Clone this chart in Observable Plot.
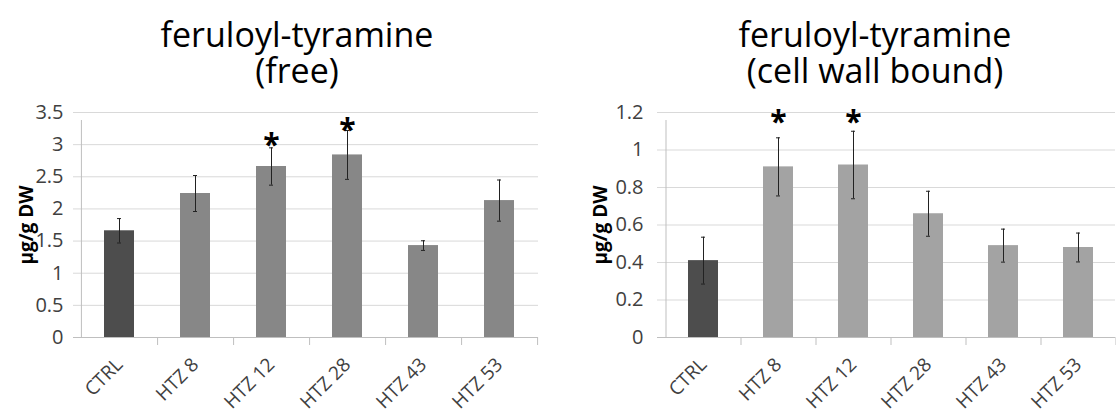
<!DOCTYPE html>
<html><head><meta charset="utf-8">
<script src="https://cdn.jsdelivr.net/npm/d3@7"></script>
<script src="https://cdn.jsdelivr.net/npm/@observablehq/plot@0.6"></script>
<style>
body{margin:0;background:#fff;}
#wrap{position:relative;width:1116px;height:414px;overflow:hidden;font-family:"Open Sans",sans-serif;}
.title{position:absolute;width:440px;text-align:center;font-size:34px;line-height:36px;height:36px;color:#000;white-space:nowrap;}
.chart{position:absolute;top:95px;}
</style></head><body>
<div id="wrap">
<div class="title" style="left:77px;top:16px">feruloyl-tyramine</div>
<div class="title" style="left:77px;top:52px">(free)</div>
<div class="title" style="left:655px;top:16px">feruloyl-tyramine</div>
<div class="title" style="left:655px;top:52px">(cell wall bound)</div>
<div id="c1" class="chart" style="left:0"></div>
<div id="c2" class="chart" style="left:558px"></div>
</div>
<script>
const categories = ["CTRL","HTZ 8","HTZ 12","HTZ 28","HTZ 43","HTZ 53"];
const freeMeans = [1.66, 2.24, 2.66, 2.84, 1.43, 2.13];
const freeErrors = [0.19, 0.28, 0.29, 0.38, 0.075, 0.32];
const freeStars = [null, null, 3.15, 3.37, null, null];
const boundMeans = [0.41, 0.91, 0.92, 0.66, 0.49, 0.48];
const boundErrors = [0.125, 0.155, 0.18, 0.12, 0.088, 0.077];
const boundStars = [null, 1.2, 1.2, null, null, null];
const freeTicks = [0, 0.5, 1, 1.5, 2, 2.5, 3, 3.5];
const boundTicks = [0, 0.2, 0.4, 0.6, 0.8, 1, 1.2];
const yLabel = "μg/g DW";

const gridColor = "#d9d9d9", axisColor = "#bfbfbf", textColor = "#404040", ctrlColor = "#4d4d4d";

function makeChart(means, errors, stars, ticks, barColor, ml, mr, tickPad, labelDx) {
  const W = 558, H = 319, mt = 17, mb = 77;
  const step = (W - ml - mr) / categories.length;
  const data = categories.map((c, i) => ({
    category: c, value: means[i], lo: means[i] - errors[i], hi: means[i] + errors[i],
    star: stars[i], fill: c === "CTRL" ? ctrlColor : barColor
  }));
  const yMax = ticks[ticks.length - 1];
  return Plot.plot({
    width: W, height: H, marginLeft: ml, marginRight: mr, marginTop: mt, marginBottom: mb,
    style: {fontFamily: "Open Sans", fontSize: "19px", color: textColor, background: "white", overflow: "visible"},
    x: {type: "band", domain: categories, paddingInner: 0.6, paddingOuter: 0.3, axis: null},
    y: {domain: [0, yMax], axis: null},
    color: {type: "identity"},
    marks: [
      Plot.ruleY(ticks.slice(1), {stroke: gridColor, insetLeft: -8}),
      Plot.ruleY([0], {stroke: axisColor, insetLeft: -8}),
      Plot.ruleX([categories[0]], {x: d => d, dx: -step / 2, y1: 0, y2: yMax, stroke: axisColor, insetBottom: -8}),
      Plot.axisX({tickSize: 8, tickFormat: () => "", dx: step / 2, stroke: axisColor, label: null}),
      Plot.barY(data, {x: "category", y: "value", fill: "fill"}),
      Plot.ruleX(data, {x: "category", y1: "lo", y2: "hi", stroke: "#222", strokeWidth: 1}),
      Plot.tickY(data, {x: "category", y: "hi", stroke: "#222", insetLeft: 13, insetRight: 13}),
      Plot.tickY(data, {x: "category", y: "lo", stroke: "#222", insetLeft: 13, insetRight: 13}),
      Plot.text(data.filter(d => d.star != null), {x: "category", y: "star", text: () => "*", fontSize: 30, fontWeight: "bold", fill: "#000", dy: 10}),
      Plot.axisY({ticks: ticks, tickSize: 0, tickPadding: tickPad, tickFormat: d => String(+d.toFixed(2)), fontSize: 20, fill: textColor, label: null}),
      Plot.axisX({tickSize: 0, tickRotate: -45, tickPadding: 24, fontSize: 19, fill: textColor, label: null}),
      Plot.text([yLabel], {text: d => d, frameAnchor: "left", textAnchor: "middle", dx: labelDx, rotate: -90, fontWeight: "bold", fontSize: 19, fill: "#000"})
    ]
  });
}

document.getElementById("c1").appendChild(makeChart(freeMeans, freeErrors, freeStars, freeTicks, "#878787", 81, 20, 18, -55));
document.getElementById("c2").appendChild(makeChart(boundMeans, boundErrors, boundStars, boundTicks, "#a3a3a3", 107, 1, 22, -65));
</script>
</body></html>
